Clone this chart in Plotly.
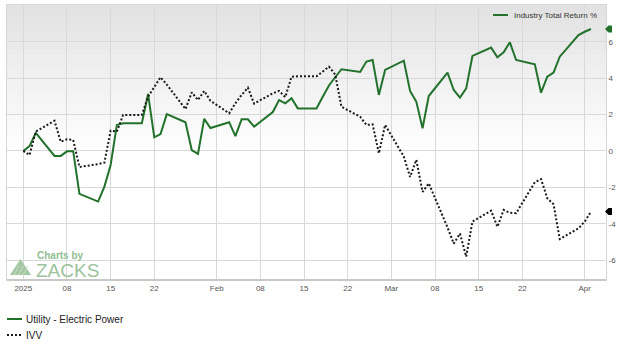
import pandas as pd
import plotly.graph_objects as go

# ---- data (weekday closes, Jan 1 2025 .. Apr 2 2025) ----
dates = pd.bdate_range("2025-01-01", "2025-04-02")

industry = [
    # Jan
    0.0, 0.27, 1.0, -0.27, -0.27, -0.02, -0.02, -2.36, -2.78, -1.96, -0.77, 1.43,
    1.52, 1.52, 3.13, 0.75, 0.93, 2.02, 1.58, 0.05, -0.16, 1.76, 1.26,
    # Feb
    1.58, 0.82, 1.74, 1.74, 1.34, 2.14, 2.8, 2.62, 2.9, 2.34, 2.34, 2.98, 3.6,
    4.05, 4.49, 4.34, 4.91, 5.0, 3.08, 4.45,
    # Mar
    4.96, 3.3, 2.71, 1.25, 3.02, 4.3, 3.35, 2.93, 3.44, 5.22, 5.68, 5.15, 5.42,
    5.97, 5.0, 4.76, 3.2, 4.08, 4.3, 5.18, 6.37,
    # Apr
    6.55, 6.7,
]

ivv = [
    # Jan
    0.0, -0.22, 1.06, 1.66, 0.51, 0.64, 0.6, -0.88, -0.72, -0.64, 1.12, 1.06,
    1.98, 1.98, 2.98, 3.53, 4.05, 3.65, 2.3, 3.22, 2.8, 3.3, 2.76,
    # Feb
    2.07, 2.62, 3.08, 3.48, 2.6, 3.17, 3.3, 2.96, 4.08, 4.1, 4.1, 4.36, 4.63,
    4.2, 2.43, 1.88, 1.43, 1.46, -0.13, 1.43,
    # Mar
    -0.31, -1.43, -0.49, -2.25, -1.78, -4.2, -5.09, -4.54, -5.81, -3.88, -3.28,
    -4.17, -3.24, -3.4, -3.42, -1.72, -1.55, -2.6, -2.93, -4.84, -4.25,
    # Apr
    -3.88, -3.33,
]

tick_dates = ["2025-01-01", "2025-01-08", "2025-01-15", "2025-01-22", "2025-02-01",
              "2025-02-08", "2025-02-15", "2025-02-22", "2025-03-01", "2025-03-08",
              "2025-03-15", "2025-03-22", "2025-04-01"]
tick_text = ["2025", "08", "15", "22", "Feb", "08", "15", "22", "Mar", "08", "15", "22", "Apr"]
y_ticks = [-6, -4, -2, 0, 2, 4, 6]
y_text = ["-6", "-4", "-2", "0", "2", "4", "6"]

GREEN = "#22722c"
DOT = "#1a1a1a"
DOT_DASH = "2px,2px"

fig = go.Figure()
fig.add_trace(go.Scatter(x=dates, y=industry, mode="lines", name="Utility - Electric Power",
                         line=dict(color=GREEN, width=2), hoverinfo="skip"))
fig.add_trace(go.Scatter(x=dates, y=ivv, mode="lines", name="IVV",
                         line=dict(color=DOT, width=2, dash=DOT_DASH), hoverinfo="skip"))

W, H = 620, 345
L, R, T, B = 7, 606, 5, 280
pw, ph = R - L, B - T


def px(xp):
    return (xp - L) / pw


def py(yp):
    return (B - yp) / ph


shapes = []
# gradient background strips
n = 30
top_c, bot_c = 226, 255
for i in range(n):
    f0 = 1 - i / n * 0.55
    f1 = 1 - (i + 1) / n * 0.55
    t = i / (n - 1)
    c = int(round(top_c + (bot_c - top_c) * t))
    shapes.append(dict(type="rect", xref="x domain", yref="y domain", x0=0, x1=1, y0=f1, y1=f0 + 0.001,
                       fillcolor=f"rgb({c},{c},{c})", line=dict(width=0), layer="below"))
# bottom border thicker
shapes.append(dict(type="line", xref="paper", yref="paper", x0=0, x1=1, y0=0, y1=0,
                   line=dict(color="#c8c8c8", width=2)))

# right-edge markers at last values
yr = 15.11 / ph  # data units per pixel
for val, col in [(industry[-1], GREEN), (ivv[-1], "#000000")]:
    h = 3.5 * yr
    path = (f"M {px(605)},{val} L {px(608.5)},{val + h} L {px(612)},{val + h} "
            f"L {px(612)},{val - h} L {px(608.5)},{val - h} Z")
    shapes.append(dict(type="path", xref="paper", yref="y", path=path,
                       fillcolor=col, line=dict(width=0)))

# legend samples
shapes.append(dict(type="line", xref="paper", yref="paper", x0=px(493), x1=px(508), y0=py(15), y1=py(15),
                   line=dict(color=GREEN, width=2)))
shapes.append(dict(type="line", xref="paper", yref="paper", x0=px(7), x1=px(22), y0=py(319), y1=py(319),
                   line=dict(color=GREEN, width=2)))
shapes.append(dict(type="line", xref="paper", yref="paper", x0=px(7), x1=px(22), y0=py(335), y1=py(335),
                   line=dict(color=DOT, width=2, dash=DOT_DASH)))

# zacks logo triangle
shapes.append(dict(type="path", xref="paper", yref="paper",
                   path=f"M {px(10)},{py(275)} L {px(31)},{py(275)} L {px(20.5)},{py(259)} Z",
                   fillcolor="#a3c7a3", line=dict(width=0)))
for k in range(3):
    x0 = 14 + k * 4.5
    shapes.append(dict(type="line", xref="paper", yref="paper",
                       x0=px(x0), y0=py(275), x1=px(x0 + 5), y1=py(266),
                       line=dict(color="#c9dfc9", width=1)))

annotations = [
    dict(x=px(512), y=py(15), xref="paper", yref="paper", text="Industry Total Return %",
         showarrow=False, xanchor="left", yanchor="middle",
         font=dict(family="Liberation Sans, Arial", size=8, color="#333333")),
    dict(x=px(24), y=py(319), xref="paper", yref="paper", text="Utility - Electric Power",
         showarrow=False, xanchor="left", yanchor="middle",
         font=dict(family="Liberation Sans, Arial", size=10, color="#222222")),
    dict(x=px(24), y=py(335), xref="paper", yref="paper", text="IVV",
         showarrow=False, xanchor="left", yanchor="middle",
         font=dict(family="Liberation Sans, Arial", size=10, color="#222222")),
    dict(x=px(35), y=py(255), xref="paper", yref="paper", text="<b>Charts by</b>",
         showarrow=False, xanchor="left", yanchor="middle",
         font=dict(family="Liberation Sans, Arial", size=10, color="#92bd92")),
    dict(x=px(34), y=py(270), xref="paper", yref="paper", text="ZACKS",
         showarrow=False, xanchor="left", yanchor="middle",
         font=dict(family="Liberation Sans, Arial", size=19, color="#9cc29c")),
]

fig.update_layout(
    width=W, height=H,
    margin=dict(l=L, r=W - R, t=T, b=H - B, pad=0),
    paper_bgcolor="white",
    plot_bgcolor="white",
    showlegend=False,
    shapes=shapes,
    annotations=annotations,
    xaxis=dict(
        type="date",
        range=["2024-12-29 09:17", "2025-04-04 09:50"],
        tickvals=tick_dates, ticktext=tick_text,
        showgrid=True, gridcolor="#d9d9d9", gridwidth=1,
        showline=True, linecolor="#d6d6d6", linewidth=1, mirror=True,
        ticks="", zeroline=False,
        tickfont=dict(family="Liberation Sans, Arial", size=8, color="#555555"),
        fixedrange=True,
    ),
    yaxis=dict(
        range=[-7.09, 8.02], side="right",
        tickvals=y_ticks, ticktext=y_text,
        showgrid=True, gridcolor="#d9d9d9", gridwidth=1,
        showline=True, linecolor="#d6d6d6", linewidth=1, mirror=True,
        ticks="", zeroline=False,
        tickfont=dict(family="Liberation Sans, Arial", size=8, color="#555555"),
        fixedrange=True,
    ),
)

fig.write_html("out.html", config=dict(displayModeBar=False))
